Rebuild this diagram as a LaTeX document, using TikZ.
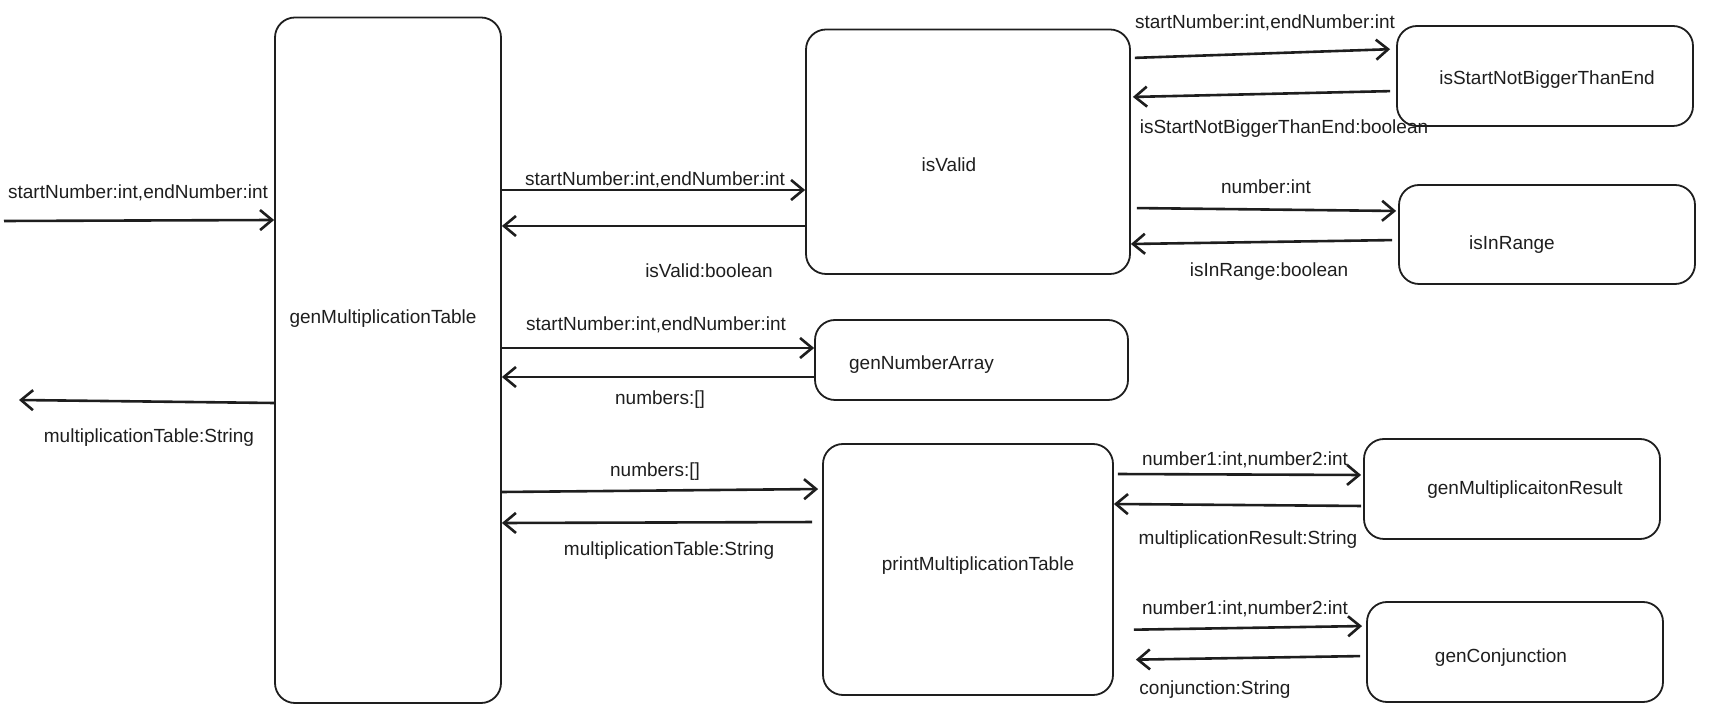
\documentclass[tikz,border=0pt]{standalone}
\usepackage{fontspec}
\setmainfont{Liberation Sans}
\usetikzlibrary{arrows.meta, fit}
\definecolor{inkDark}{HTML}{1E1E1E}

\tikzset{
    box/.style={draw=inkDark, rounded corners=10pt, line width=0.9pt, inner sep=0pt},
    flow/.style={draw=inkDark, line width=1.3pt, -{Straight Barb[length=6pt,width=10pt]}},
    lbl/.style={font=\fontsize{9.5}{11}\selectfont, text=inkDark, inner sep=0pt},
}

\begin{document}
\begin{tikzpicture}[x=0.5pt, y=-0.5pt,
    every label/.style={font=\fontsize{9.5}{11}\selectfont, text=inkDark}]
    \useasboundingbox (0,0) rectangle (1714,715);

    % functions
    \node[box, fit={(275,17.5) (501,703)},
        label={[shift={(-5,-42)}]center:genMultiplicationTable}] (gmt) {};
    \node[box, fit={(806,29.5) (1130,274)},
        label={[shift={(-19,13)}]center:isValid}] (isValid) {};
    \node[box, fit={(1397,26) (1693,126)},
        label={[shift={(2,4)}]center:isStartNotBiggerThanEnd}] (isStart) {};
    \node[box, fit={(1399,185) (1695,284)},
        label={[shift={(-35,10)}]center:isInRange}] (isInRange) {};
    \node[box, fit={(815,320) (1128,400)},
        label={[shift={(-50,5)}]center:genNumberArray}] (gna) {};
    \node[box, fit={(823,444) (1113,695)},
        label={[shift={(10,-4)}]center:printMultiplicationTable}] (pmt) {};
    \node[box, fit={(1364,439) (1660,539)},
        label={[shift={(13,1)}]center:genMultiplicaitonResult}] (gmr) {};
    \node[box, fit={(1367,602) (1663,702)},
        label={[shift={(-14,6)}]center:genConjunction}] (gconj) {};

    % outside world
    \coordinate (in) at (4,221);
    \coordinate (out) at (19,400);
    \draw[flow] (in) -- (gmt.west |- 0,220);
    \draw[flow] (gmt.west |- 0,403) -- (out);
    \node[lbl] (l1) at (138,193) {startNumber:int,endNumber:int};
    \node[lbl] (l2) at (149,438) {multiplicationTable:String};

    % genMultiplicationTable calls
    \draw[flow] (gmt.east |- 0,190) -- (isValid.west |- 0,190);
    \draw[flow] (isValid.west |- 0,226) -- (gmt.east |- 0,226);
    \draw[flow] (gmt.east |- 0,348) -- (gna.west |- 0,348);
    \draw[flow] (gna.west |- 0,377) -- (gmt.east |- 0,377);
    \draw[flow, shorten >=2pt] (gmt.east |- 0,492) -- (pmt.west |- 0,489);
    \draw[flow, shorten <=5pt] (pmt.west |- 0,522) -- (gmt.east |- 0,523);
    \node[lbl] (l3) at (655,180) {startNumber:int,endNumber:int};
    \node[lbl] (l4) at (709,271) {isValid:boolean};
    \node[lbl] (l5) at (656,325) {startNumber:int,endNumber:int};
    \node[lbl] (l6) at (660,400) {numbers:[]};
    \node[lbl] (l7) at (655,472) {numbers:[]};
    \node[lbl] (l8) at (669,551) {multiplicationTable:String};

    % isValid calls
    \draw[flow, shorten <=2pt, shorten >=3pt] (isValid.east |- 0,58) -- (isStart.west |- 0,49);
    \draw[flow, shorten <=3pt, shorten >=1pt] (isStart.west |- 0,91) -- (isValid.east |- 0,97);
    \draw[flow, shorten <=3pt, shorten >=1pt] (isValid.east |- 0,208) -- (isInRange.west |- 0,211);
    \draw[flow, shorten <=3pt] (isInRange.west |- 0,240) -- (isValid.east |- 0,244);
    \node[lbl] (l9) at (1265,23) {startNumber:int,endNumber:int};
    \node[lbl] (l10) at (1284,129) {isStartNotBiggerThanEnd:boolean};
    \node[lbl] (l11) at (1266,187) {number:int};
    \node[lbl] (l12) at (1269,272) {isInRange:boolean};

    % printMultiplicationTable calls
    \draw[flow, shorten <=2pt, shorten >=1pt] (pmt.east |- 0,474) -- (gmr.west |- 0,475);
    \draw[flow, shorten <=1pt] (gmr.west |- 0,506) -- (pmt.east |- 0,504);
    \draw[flow, shorten <=10pt, shorten >=2pt] (pmt.east |- 0,630) -- (gconj.west |- 0,626);
    \draw[flow, shorten <=3pt, shorten >=11pt] (gconj.west |- 0,656) -- (pmt.east |- 0,660);
    \node[lbl] (l13) at (1245,460) {number1:int,number2:int};
    \node[lbl] (l14) at (1248,540) {multiplicationResult:String};
    \node[lbl] (l15) at (1245,609) {number1:int,number2:int};
    \node[lbl] (l16) at (1215,690) {conjunction:String};
\end{tikzpicture}
\end{document}
